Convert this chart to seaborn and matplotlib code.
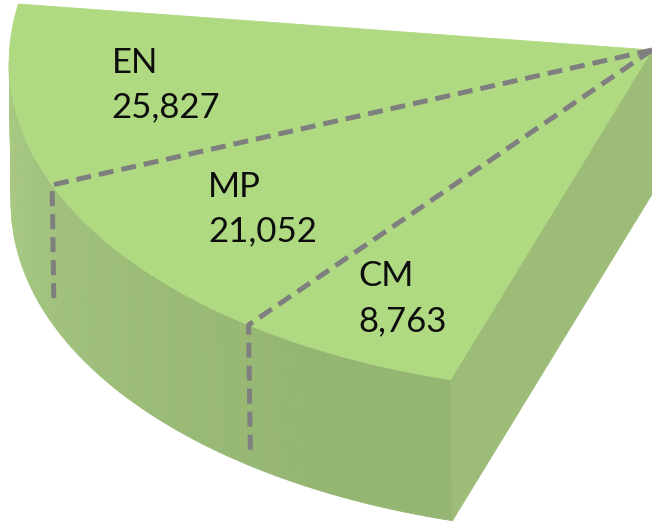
import numpy as np
import matplotlib
matplotlib.use("Agg")
import matplotlib.pyplot as plt
import seaborn as sns

# Data
labels = ["EN", "MP", "CM"]
values = [25827, 21052, 8763]

# Layout of the 3D wedge (pixels / degrees)
edge_deg = [169.4, 200.25, 230.3, 250.9]   # back edge, two dividers, front edge
label_r = [0.76, 0.75, 0.81]
drop_frac = [0.83, 0.93]                   # how far the dashed dividers run down the side
cx, cy = 652, 50                           # apex (pie centre)
A, B = 643, 343                            # ellipse half axes
rho = np.radians(1.55)                     # tilt of the ellipse
tx, ty = 2, 141                            # thickness vector

top_col = "#b0da82"
side_light = np.array([0.67, 0.80, 0.52])
side_dark = np.array([0.584, 0.710, 0.447])
right_col = "#9cbc78"
dash_col = "#7f7f7f"


def rim(t, drop=0.0):
    t = np.radians(t)
    ex, ey = A * np.cos(t), B * np.sin(t)
    x = cx + ex * np.cos(rho) - ey * np.sin(rho)
    y = cy - (ex * np.sin(rho) + ey * np.cos(rho))
    return x + drop * tx, y + drop * ty


sns.set_theme(style="white")
plt.rcParams["font.family"] = ["Lato", "DejaVu Sans"]

fig = plt.figure(figsize=(6.52, 5.23), dpi=100)
ax = fig.add_axes([0, 0, 1, 1])
ax.set_xlim(0, 652)
ax.set_ylim(523, 0)
ax.axis("off")

# front (curved) side, shaded in thin strips
t_side = np.linspace(179.17, edge_deg[-1], 90)
for i in range(len(t_side) - 1):
    t0, t1 = t_side[i], t_side[i + 1]
    x0, y0 = rim(t0)
    x1, y1 = rim(t1)
    x2, y2 = rim(t1, 1)
    x3, y3 = rim(t0, 1)
    f = i / (len(t_side) - 2)
    c = side_light + (side_dark - side_light) * min(1, f * 1.2) ** 0.8
    ax.fill([x0, x1, x2, x3], [y0, y1, y2, y3], color=c, lw=0.6, ec=c)

# right (radial) face
px, py = rim(edge_deg[-1])
ax.fill([cx, px, px + tx, cx + tx], [cy, py, py + ty, cy + ty],
        color=right_col, ec=right_col, lw=0.6)

# top face
t_top = np.linspace(edge_deg[0], edge_deg[-1], 200)
rx, ry = rim(t_top)
ax.fill(np.r_[cx, rx], np.r_[cy, ry], color=top_col, ec=top_col, lw=0.6)

# dashed dividers
for k, t in enumerate(edge_deg[1:-1]):
    x0, y0 = rim(t)
    x1, y1 = rim(t, drop_frac[k])
    ax.plot([cx, x0, x1], [cy, y0, y1], color=dash_col, lw=3.6,
            dashes=(3.0, 1.6), solid_joinstyle="miter")

# labels
for i, (lab, val) in enumerate(zip(labels, values)):
    mid = (edge_deg[i] + edge_deg[i + 1]) / 2
    t = np.radians(mid)
    ex, ey = label_r[i] * A * np.cos(t), label_r[i] * B * np.sin(t)
    lx = cx + ex * np.cos(rho) - ey * np.sin(rho)
    ly = cy - (ex * np.sin(rho) + ey * np.cos(rho))
    ax.text(lx, ly, f"{lab}\n{val:,}", ha="center", va="center",
            multialignment="left", fontsize=25, color="#0d0d0d",
            linespacing=1.5)

plt.savefig("out.png", dpi=100)
